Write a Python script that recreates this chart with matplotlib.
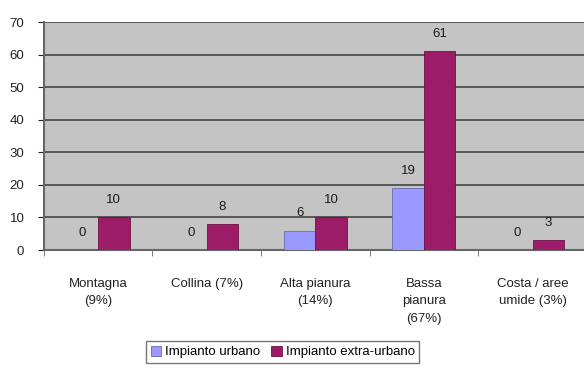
import numpy as np
import matplotlib
matplotlib.use('Agg')
import matplotlib.pyplot as plt

plt.rcParams['font.family'] = ['Liberation Sans', 'DejaVu Sans']

categories = ['Montagna\n(9%)', 'Collina (7%)', 'Alta pianura\n(14%)', 'Bassa\npianura\n(67%)', 'Costa / aree\numide (3%)']
urbano = [0, 0, 6, 19, 0]
extra_urbano = [10, 8, 10, 61, 3]
series_names = ['Impianto urbano', 'Impianto extra-urbano']

fig = plt.figure(figsize=(5.84, 3.76), dpi=100)
ax = fig.add_axes([0.075, 0.335, 0.93, 0.606])

x = np.arange(len(categories))
w = 0.29
b1 = ax.bar(x - w / 2, urbano, w, color='#9999ff', edgecolor='#6a6ab0', linewidth=0.6, label=series_names[0], zorder=3)
b2 = ax.bar(x + w / 2, extra_urbano, w, color='#9c1c68', edgecolor='#6e1048', linewidth=0.6, label=series_names[1], zorder=3)

# value labels above bars
for bars, vals in ((b1, urbano), (b2, extra_urbano)):
    for r, v in zip(bars, vals):
        ax.annotate(str(v), (r.get_x() + r.get_width() / 2, v), xytext=(0, 8),
                    textcoords='offset points', ha='center', va='bottom', fontsize=9.5, color='#1a1a1a')

ax.set_facecolor('#c4c4c4')
ax.set_ylim(0, 70)
ax.set_xlim(-0.5, len(categories) - 0.5)
ax.set_yticks(range(0, 71, 10))
ax.yaxis.grid(True, color='#444444', linewidth=1.2, zorder=0)
ax.tick_params(axis='y', length=4, labelsize=9.5, colors='#222222', pad=10)
ax.set_xticks(x)
ax.set_xticklabels(categories, fontsize=9.5, linespacing=1.6, color='#222222')
ax.set_xticks(np.arange(len(categories) + 1) - 0.5, minor=True)
ax.tick_params(axis='x', which='major', length=0, pad=20)
ax.tick_params(axis='x', which='minor', length=4, color='#666666')
for s in ['top', 'right']:
    ax.spines[s].set_visible(False)
ax.spines['left'].set_color('#666666')
ax.spines['left'].set_linewidth(1.5)
ax.spines['bottom'].set_color('#666666')
ax.spines['bottom'].set_linewidth(1.5)

fig.legend(loc='center', bbox_to_anchor=(0.484, 0.064), ncol=2, fontsize=9.5, frameon=True,
           edgecolor='#555555', fancybox=False, handlelength=0.8, handleheight=0.8,
           handletextpad=0.3, columnspacing=0.8, borderpad=0.35)

fig.savefig('out.png', dpi=100)
